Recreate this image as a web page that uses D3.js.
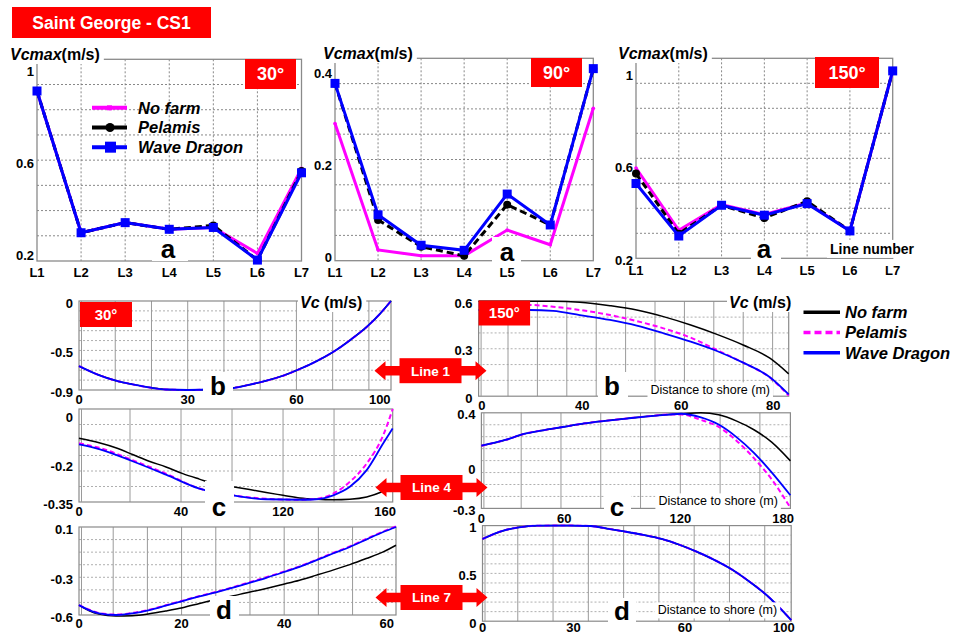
<!DOCTYPE html>
<html><head><meta charset="utf-8">
<script src="https://cdn.jsdelivr.net/npm/d3@7"></script>
<style>body{margin:0;background:#fff}svg{display:block}text{font-family:"Liberation Sans",Arial,Helvetica,sans-serif}</style>
</head><body>
<svg id="chart" width="955" height="635"></svg>
<script>
// ---------------- DATA ----------------
const lineNames = ["L1","L2","L3","L4","L5","L6","L7"];
const seriesNames = ["No farm","Pelamis","Wave Dragon"];
// Vcmax (m/s) per line, 30°
const noFarm30 = [0.914, 0.297, 0.341, 0.312, 0.320, 0.207, 0.577];
const pelamis30 = [0.914, 0.297, 0.341, 0.312, 0.329, 0.178, 0.566];
const waveDragon30 = [0.914, 0.297, 0.341, 0.312, 0.320, 0.178, 0.558];
// 90°
const noFarm90 = [0.291, 0.017, 0.004, 0.004, 0.060, 0.028, 0.324];
const pelamis90 = [0.378, 0.082, 0.024, 0.004, 0.115, 0.071, 0.410];
const waveDragon90 = [0.378, 0.093, 0.027, 0.016, 0.138, 0.071, 0.410];
// 150°
const noFarm150 = [0.599, 0.330, 0.441, 0.398, 0.448, 0.327, 1.019];
const pelamis150 = [0.575, 0.315, 0.438, 0.383, 0.455, 0.327, 1.019];
const waveDragon150 = [0.532, 0.305, 0.438, 0.395, 0.445, 0.327, 1.019];
const yTicks30 = [0.2, 0.6, 1];
const yTicks90 = [0, 0.2, 0.4];
const yTicks150 = [0.2, 0.6, 1];

// Vc (m/s) along Line 1, 30°
const l1_30_x = [0, 5.5, 10.2, 14.8, 19.9, 24.0, 30.0, 36.9, 42.5, 47.1, 51.7, 56.3, 60.9, 65.6, 70.2, 74.8, 79.4, 83.1, 86.1];
const l1_30_noFarm = [-0.658, -0.749, -0.806, -0.843, -0.877, -0.895, -0.900, -0.895, -0.880, -0.846, -0.806, -0.756, -0.688, -0.608, -0.514, -0.396, -0.262, -0.128, 0];
const l1_30_pelamis = [-0.658, -0.749, -0.806, -0.843, -0.877, -0.895, -0.900, -0.895, -0.880, -0.846, -0.806, -0.756, -0.688, -0.608, -0.514, -0.396, -0.262, -0.128, 0];
const l1_30_wave = [-0.658, -0.749, -0.806, -0.843, -0.877, -0.895, -0.900, -0.895, -0.880, -0.846, -0.806, -0.756, -0.688, -0.608, -0.514, -0.396, -0.262, -0.128, 0];
// Line 1, 150°
const l1_150_x = [19.05, 29.4, 34.1, 39.5, 45.6, 51.0, 56.4, 61.9, 67.2, 72.5, 77.9, 81.7];
const l1_150_noFarm = [0.600, 0.600, 0.600, 0.594, 0.572, 0.545, 0.503, 0.450, 0.391, 0.324, 0.240, 0.141];
const l1_150_pelamis = [0.580, 0.577, 0.566, 0.545, 0.513, 0.475, 0.429, 0.370, 0.292, 0.212, 0.118, 0.004];
const l1_150_wave = [0.545, 0.545, 0.539, 0.513, 0.482, 0.446, 0.398, 0.345, 0.286, 0.212, 0.120, 0.011];
// Line 4, 30°
const l4_30_xNoFarm = [0, 7.9, 14.4, 21.0, 27.5, 34.1, 40.7, 47.2, 53.8, 60.3, 66.9, 73.4, 80.0, 86.6, 93.1, 99.7, 106.2, 112.8, 119.3, 123];
const l4_30_noFarm = [-0.094, -0.112, -0.132, -0.159, -0.186, -0.209, -0.236, -0.258, -0.279, -0.289, -0.300, -0.312, -0.323, -0.334, -0.339, -0.341, -0.339, -0.330, -0.307, -0.289];
const l4_30_x = [0, 7.9, 21.0, 34.1, 47.2, 60.3, 73.4, 86.6, 93.1, 99.7, 106.2, 112.8, 119.3, 123];
const l4_30_pelamis = [-0.114, -0.132, -0.182, -0.236, -0.296, -0.323, -0.337, -0.341, -0.337, -0.316, -0.269, -0.195, -0.081, 0.024];
const l4_30_wave = [-0.118, -0.137, -0.186, -0.240, -0.296, -0.323, -0.339, -0.341, -0.339, -0.323, -0.289, -0.222, -0.114, -0.054];
// Line 4, 150°
const l4_150_x = [0, 15.0, 25.6, 36.3, 49.1, 61.9, 74.7, 87.5, 100.4, 113.1, 120.6, 132.4, 143.1, 153.7, 164.4, 175.1, 186.4];
const l4_150_noFarm = [0.159, 0.203, 0.245, 0.270, 0.296, 0.322, 0.341, 0.358, 0.374, 0.387, 0.393, 0.400, 0.385, 0.341, 0.276, 0.185, 0.048];
const l4_150_pelamis = [0.159, 0.203, 0.245, 0.270, 0.296, 0.322, 0.341, 0.358, 0.374, 0.387, 0.387, 0.348, 0.297, 0.198, 0.068, -0.087, -0.295];
const l4_150_wave = [0.159, 0.203, 0.245, 0.270, 0.296, 0.322, 0.341, 0.358, 0.374, 0.387, 0.393, 0.366, 0.314, 0.224, 0.107, -0.036, -0.204];
// Line 7, 30°
const l7_30_x = [0, 2.0, 3.9, 7.2, 10.4, 13.7, 16.9, 20.2, 23.5, 26.7, 30.0, 33.2, 36.5, 39.7, 43.0, 46.3, 49.5, 52.8, 56.0, 59.3, 61.8];
const l7_30_pelamis = [-0.521, -0.558, -0.584, -0.597, -0.584, -0.558, -0.523, -0.486, -0.449, -0.416, -0.379, -0.340, -0.300, -0.258, -0.213, -0.160, -0.107, -0.054, 0.005, 0.065, 0.104];
const l7_30_wave = [-0.521, -0.561, -0.587, -0.600, -0.587, -0.561, -0.526, -0.489, -0.452, -0.420, -0.383, -0.344, -0.304, -0.262, -0.217, -0.164, -0.111, -0.059, 0.000, 0.060, 0.100];
const l7_30_xNoFarm = [0, 2.0, 3.9, 7.2, 10.4, 13.7, 16.9, 20.2, 23.5, 25.4, 31.3, 36.5, 39.7, 43.0, 46.3, 49.5, 52.8, 56.0, 59.3, 61.8];
const l7_30_noFarm = [-0.521, -0.566, -0.592, -0.608, -0.605, -0.590, -0.568, -0.542, -0.508, -0.489, -0.436, -0.389, -0.357, -0.323, -0.283, -0.243, -0.199, -0.151, -0.098, -0.045];
// Line 7, 150°
const l7_150_x = [0, 5.9, 10.4, 15.4, 20.3, 24.8, 30.5, 36.1, 40.6, 45.6, 50.8, 56.0, 60.7, 65.4, 70.6, 75.3, 80.5, 87.5];
const l7_150_noFarm = [0.860, 0.947, 0.982, 0.999, 1.000, 1.000, 0.996, 0.964, 0.936, 0.902, 0.860, 0.797, 0.727, 0.647, 0.543, 0.424, 0.274, 0.012];
const l7_150_pelamis = [0.860, 0.947, 0.982, 0.999, 1.000, 1.000, 0.996, 0.964, 0.936, 0.902, 0.860, 0.797, 0.727, 0.647, 0.543, 0.424, 0.274, 0.012];
const l7_150_wave = [0.860, 0.947, 0.982, 0.999, 1.000, 1.000, 0.996, 0.964, 0.936, 0.902, 0.860, 0.797, 0.727, 0.647, 0.543, 0.424, 0.274, 0.012];

// tick labels of the small panels
const b30XTicks = [0, 30, 60, 83], b30XLabels = ["0","30","60","100"], b30YTicks = [0, -0.5, -0.9];
const b150XTicks = [19.7, 40, 60, 78.6], b150XLabels = ["0","40","60","80"], b150YTicks = [0.6, 0.3, 0];
const c30XTicks = [0, 40, 80, 120], c30XLabels = ["0","40","120","160"], c30YTicks = [0, -0.2, -0.35];
const c150XTicks = [0, 50, 120, 182], c150XLabels = ["0","60","120","180"], c150YTicks = [0.4, 0, -0.3];
const d30XTicks = [0, 20, 40, 60], d30XLabels = ["0","20","40","60"], d30YTicks = [0.1, -0.3, -0.6];
const d150XTicks = [0, 25.8, 57.4, 85.4], d150XLabels = ["0","30","60","100"], d150YTicks = [1, 0.5, 0];

// ---------------- DRAWING ----------------
const svg = d3.select("#chart");
const COL = {nofarm:"#ff00ff", pel:"#000000", wave:"#0000ff", red:"#ff0000"};

function topPanel(p) {
  const g = svg.append("g");
  const x = d3.scalePoint().domain(lineNames).range([p.x0, p.x1]);
  const y = d3.scaleLinear().domain(p.yDomain).range([p.y1, p.y0]);
  const grid = d3.scaleLinear().domain([0, 8]).range([p.y1, p.y0]);
  g.append("g").selectAll("line").data(d3.range(1, 8)).join("line")
    .attr("x1", p.x0).attr("x2", p.x1).attr("y1", d => grid(d)).attr("y2", d => grid(d))
    .attr("stroke", "#7a7a7a").attr("stroke-width", 0.9).attr("stroke-dasharray", "2,2");
  g.append("g").selectAll("line").data(lineNames.slice(1, 6)).join("line")
    .attr("x1", d => x(d)).attr("x2", d => x(d)).attr("y1", p.y0).attr("y2", p.y1)
    .attr("stroke", "#7a7a7a").attr("stroke-width", 0.9).attr("stroke-dasharray", "2,2");
  g.append("rect").attr("x", p.x0).attr("y", p.y0).attr("width", p.x1 - p.x0).attr("height", p.y1 - p.y0)
    .attr("fill", "none").attr("stroke", "#8a8a8a").attr("stroke-width", 1.3);
  g.append("g").selectAll("text").data(p.yTicks).join("text")
    .attr("x", p.x0 - 3).attr("y", d => y(d)).attr("dy", "0.35em").attr("text-anchor", "end")
    .attr("font-size", 13).attr("font-weight", "bold").text(d => d);
  g.append("g").selectAll("text").data(lineNames).join("text")
    .attr("x", d => x(d)).attr("y", p.y1 + p.xLabelOff).attr("text-anchor", "middle")
    .attr("font-size", 13).attr("font-weight", "bold").text(d => d);
  const line = d3.line().x((d, i) => x(lineNames[i])).y(d => y(d));
  g.append("path").attr("d", line(p.noFarm)).attr("fill", "none").attr("stroke", COL.nofarm).attr("stroke-width", 3);
  g.append("g").selectAll("circle").data(p.noFarm).join("circle")
    .attr("cx", (d, i) => x(lineNames[i])).attr("cy", d => y(d)).attr("r", 1.8).attr("fill", COL.nofarm);
  g.append("path").attr("d", line(p.pelamis)).attr("fill", "none").attr("stroke", COL.pel).attr("stroke-width", 3).attr("stroke-dasharray", "7,4");
  g.append("g").selectAll("circle").data(p.pelamis).join("circle")
    .attr("cx", (d, i) => x(lineNames[i])).attr("cy", d => y(d)).attr("r", 4).attr("fill", COL.pel);
  g.append("path").attr("d", line(p.wave)).attr("fill", "none").attr("stroke", COL.wave).attr("stroke-width", 3);
  g.append("g").selectAll("rect").data(p.wave).join("rect")
    .attr("x", (d, i) => x(lineNames[i]) - 4.5).attr("y", d => y(d) - 4.5).attr("width", 9).attr("height", 9).attr("fill", COL.wave);
}

function smallPanel(p) {
  const g = svg.append("g");
  const x = d3.scaleLinear().domain(p.xDomain).range([p.x0, p.x1]);
  const y = d3.scaleLinear().domain(p.yDomain).range([p.y1, p.y0]);
  const gy = d3.scaleLinear().domain([0, p.nGridY]).range([p.y1, p.y0]);
  g.append("g").selectAll("line").data(d3.range(1, p.nGridY)).join("line")
    .attr("x1", p.x0).attr("x2", p.x1).attr("y1", d => gy(d)).attr("y2", d => gy(d))
    .attr("stroke", "#9a9a9a").attr("stroke-width", 0.8).attr("stroke-dasharray", "2,2");
  const vx = d3.range(p.xDomain[0] + p.gridStepX, p.xDomain[1] - 0.3 * p.gridStepX, p.gridStepX);
  g.append("g").selectAll("line").data(vx).join("line")
    .attr("x1", d => x(d)).attr("x2", d => x(d)).attr("y1", p.y0).attr("y2", p.y1)
    .attr("stroke", "#9a9a9a").attr("stroke-width", 1);
  g.append("rect").attr("x", p.x0).attr("y", p.y0).attr("width", p.x1 - p.x0).attr("height", p.y1 - p.y0)
    .attr("fill", "none").attr("stroke", "#8a8a8a").attr("stroke-width", 1.2);
  g.append("line").attr("x1", p.x0 + 2.5).attr("x2", p.x0 + 2.5).attr("y1", p.y0).attr("y2", p.y1)
    .attr("stroke", "#9a9a9a").attr("stroke-width", 1);
  g.append("g").selectAll("text").data(p.yTicks).join("text")
    .attr("x", p.x0 - 6).attr("y", d => y(d) + 2).attr("dy", "0.35em").attr("text-anchor", "end")
    .attr("font-size", 13).attr("font-weight", "bold").text(d => d);
  g.append("g").selectAll("text").data(p.xTicks).join("text")
    .attr("x", d => x(d)).attr("y", p.y1 + p.xLabelOff).attr("dy", "0.35em").attr("text-anchor", "middle")
    .attr("font-size", 13).attr("font-weight", "bold").text((d, i) => p.xLabels[i]);
  const line = (xs, ys) => d3.line().curve(d3.curveMonotoneX).x((d, i) => x(xs[i])).y(d => y(d))(ys);
  g.append("path").attr("d", line(p.xNoFarm, p.noFarm)).attr("fill", "none").attr("stroke", COL.pel).attr("stroke-width", 1.5);
  g.append("path").attr("d", line(p.xs, p.pelamis)).attr("fill", "none").attr("stroke", COL.nofarm).attr("stroke-width", 2).attr("stroke-dasharray", "5,3");
  g.append("path").attr("d", line(p.xs, p.wave)).attr("fill", "none").attr("stroke", COL.wave).attr("stroke-width", 1.8);
}

topPanel({x0: 37, x1: 301.5, y0: 59.3, y1: 261, yDomain: [0.174, 1.052], yTicks: yTicks30, xLabelOff: 16,
  noFarm: noFarm30, pelamis: pelamis30, wave: waveDragon30});
topPanel({x0: 335, x1: 593.3, y0: 58.3, y1: 260.7, yDomain: [-0.0065, 0.4324], yTicks: yTicks90, xLabelOff: 16,
  noFarm: noFarm90, pelamis: pelamis90, wave: waveDragon90});
topPanel({x0: 636, x1: 892.7, y0: 58.3, y1: 258.3, yDomain: [0.2086, 1.0735], yTicks: yTicks150, xLabelOff: 17,
  noFarm: noFarm150, pelamis: pelamis150, wave: waveDragon150});

smallPanel({x0: 79, x1: 391, y0: 301, y1: 390, xDomain: [0, 86.1], yDomain: [-0.9, 0], nGridY: 9, gridStepX: 10, xLabelOff: 9,
  xTicks: b30XTicks, xLabels: b30XLabels, yTicks: b30YTicks,
  xNoFarm: l1_30_x, xs: l1_30_x, noFarm: l1_30_noFarm, pelamis: l1_30_pelamis, wave: l1_30_wave});
smallPanel({x0: 478.6, x1: 788.7, y0: 301.3, y1: 396.2, xDomain: [19.05, 81.7], yDomain: [0, 0.6], nGridY: 6, gridStepX: 5.94, xLabelOff: 9,
  xTicks: b150XTicks, xLabels: b150XLabels, yTicks: b150YTicks,
  xNoFarm: l1_150_x, xs: l1_150_x, noFarm: l1_150_noFarm, pelamis: l1_150_pelamis, wave: l1_150_wave});
smallPanel({x0: 79, x1: 392.7, y0: 409, y1: 502, xDomain: [0, 123], yDomain: [-0.35, 0.024], nGridY: 6, gridStepX: 20, xLabelOff: 9,
  xTicks: c30XTicks, xLabels: c30XLabels, yTicks: c30YTicks,
  xNoFarm: l4_30_xNoFarm, xs: l4_30_x, noFarm: l4_30_noFarm, pelamis: l4_30_pelamis, wave: l4_30_wave});
smallPanel({x0: 481.4, x1: 790.4, y0: 412.8, y1: 508.4, xDomain: [0, 186.4], yDomain: [-0.3, 0.4], nGridY: 8, gridStepX: 24, xLabelOff: 10,
  xTicks: c150XTicks, xLabels: c150XLabels, yTicks: c150YTicks,
  xNoFarm: l4_150_x, xs: l4_150_x, noFarm: l4_150_noFarm, pelamis: l4_150_pelamis, wave: l4_150_wave});
smallPanel({x0: 79, x1: 396, y0: 527, y1: 615, xDomain: [0, 61.8], yDomain: [-0.6, 0.1], nGridY: 7, gridStepX: 20 / 3, xLabelOff: 8.5,
  xTicks: d30XTicks, xLabels: d30XLabels, yTicks: d30YTicks,
  xNoFarm: l7_30_xNoFarm, xs: l7_30_x, noFarm: l7_30_noFarm, pelamis: l7_30_pelamis, wave: l7_30_wave});
smallPanel({x0: 482.5, x1: 791.2, y0: 525.6, y1: 621.2, xDomain: [0, 87.5], yDomain: [0, 1], nGridY: 10, gridStepX: 10, xLabelOff: 6.5,
  xTicks: d150XTicks, xLabels: d150XLabels, yTicks: d150YTicks,
  xNoFarm: l7_150_x, xs: l7_150_x, noFarm: l7_150_noFarm, pelamis: l7_150_pelamis, wave: l7_150_wave});

// ---------------- DECORATIONS ----------------
function whiteBox(x, y, w, h) {
  svg.append("rect").attr("x", x).attr("y", y).attr("width", w).attr("height", h).attr("fill", "#fff");
}
function letter(cx, cy, s, box) {
  whiteBox(box[0], box[1], box[2], box[3]);
  svg.append("text").attr("x", cx).attr("y", cy).attr("dy", "0.35em").attr("text-anchor", "middle")
    .attr("font-size", 26).attr("font-weight", "bold").text(s);
}
function titleText(x, y, italic, rest, size) {
  const g = svg.append("g");
  const r = g.append("rect").attr("fill", "#fff");
  const t = g.append("text").attr("x", x).attr("y", y).attr("font-size", size).attr("font-weight", "bold");
  t.append("tspan").attr("font-style", "italic").text(italic);
  t.append("tspan").text(rest);
  const b = t.node().getBBox();
  r.attr("x", b.x - 2).attr("y", b.y - 1).attr("width", b.width + 6).attr("height", b.height + 2);
}
function plainBoxed(x, y, s, size, weight, anchor) {
  const g = svg.append("g");
  const r = g.append("rect").attr("fill", "#fff");
  const t = g.append("text").attr("x", x).attr("y", y).attr("dy", "0.35em").attr("font-size", size)
    .attr("font-weight", weight).attr("text-anchor", anchor || "start").text(s);
  const b = t.node().getBBox();
  r.attr("x", b.x - 3).attr("y", b.y - 1).attr("width", b.width + 6).attr("height", b.height + 2);
}
function badge(x, y, w, h, s, size) {
  svg.append("rect").attr("x", x).attr("y", y).attr("width", w).attr("height", h).attr("fill", COL.red);
  svg.append("text").attr("x", x + w / 2).attr("y", y + h / 2).attr("dy", "0.36em").attr("text-anchor", "middle")
    .attr("fill", "#fff").attr("font-size", size).attr("font-weight", "bold").text(s);
}
function arrow(cx, cy, s) {
  const g = svg.append("g").attr("transform", `translate(${cx},${cy})`);
  g.append("path").attr("d", "M-56,0 L-45,-9.5 L-45,-4.7 L45,-4.7 L45,-9.5 L56,0 L45,9.5 L45,4.7 L-45,4.7 L-45,9.5 Z").attr("fill", COL.red);
  g.append("rect").attr("x", -31).attr("y", -12.5).attr("width", 62).attr("height", 25).attr("fill", COL.red);
  g.append("text").attr("y", 0).attr("dy", "0.36em").attr("text-anchor", "middle").attr("fill", "#fff")
    .attr("font-size", 13.5).attr("font-weight", "bold").text(s);
}

// main title
badge(12, 7, 199, 31, "Saint George - CS1", 17.5);
// top titles
titleText(10, 60, "Vcmax", "(m/s)", 16);
titleText(323, 59, "Vcmax", "(m/s)", 16);
titleText(618, 59, "Vcmax", "(m/s)", 16);
badge(245, 59, 51, 30, "30°", 18);
badge(531, 58, 51, 29, "90°", 18);
badge(815, 57, 64, 31, "150°", 18);
// panel letters
letter(168, 249, "a", [152, 236, 36, 25]);
letter(507, 252, "a", [492, 237, 29, 31]);
letter(764, 249, "a", [751, 241, 30, 19]);
plainBoxed(872, 249, "Line number", 14, "bold", "middle");

// legend in first top panel
const legendTop = d3.scaleBand().domain(seriesNames).range([98, 157]);
const lgTop = svg.append("g");
seriesNames.forEach((n, i) => {
  const yy = legendTop(n) + legendTop.bandwidth() / 2;
  const col = [COL.nofarm, COL.pel, COL.wave][i];
  lgTop.append("line").attr("x1", 92).attr("x2", 127).attr("y1", yy).attr("y2", yy).attr("stroke", col).attr("stroke-width", 4);
  if (i === 0) lgTop.append("rect").attr("x", 107).attr("y", yy - 2.5).attr("width", 5).attr("height", 5).attr("fill", col);
  if (i === 1) lgTop.append("circle").attr("cx", 110).attr("cy", yy).attr("r", 4.5).attr("fill", col);
  if (i === 2) lgTop.append("rect").attr("x", 105).attr("y", yy - 5.5).attr("width", 11).attr("height", 11).attr("fill", col);
  lgTop.append("text").attr("x", 138).attr("y", yy).attr("dy", "0.35em").attr("font-size", 16.5)
    .attr("font-weight", "bold").attr("font-style", "italic").text(n);
});

// legend right (bottom panels)
const legendR = d3.scaleBand().domain(seriesNames).range([302, 363]);
const lgR = svg.append("g");
seriesNames.forEach((n, i) => {
  const yy = legendR(n) + legendR.bandwidth() / 2;
  const col = [COL.pel, COL.nofarm, COL.wave][i];
  lgR.append("line").attr("x1", 803.5).attr("x2", 840).attr("y1", yy).attr("y2", yy).attr("stroke", col)
    .attr("stroke-width", 3.5).attr("stroke-dasharray", i === 1 ? "7,4" : null);
  lgR.append("text").attr("x", 845).attr("y", yy).attr("dy", "0.35em").attr("font-size", 16.5)
    .attr("font-weight", "bold").attr("font-style", "italic").text(n);
});

// bottom panel titles / badges
titleText(300, 308, "Vc", " (m/s)", 16);
titleText(729, 308, "Vc", " (m/s)", 16);
badge(80, 302, 52, 25, "30°", 15);
badge(478.6, 300.5, 51.5, 25, "150°", 15);
// letters b, c, d
letter(218, 386, "b", [203, 372, 30, 30]);
letter(612, 386, "b", [598, 372, 30, 26]);
letter(219, 507, "c", [205, 481, 29, 36]);
letter(617, 507, "c", [604, 495, 27, 28]);
letter(224, 610, "d", [210, 596, 29, 30]);
letter(622, 611, "d", [608, 598, 28, 26]);
// distance labels
plainBoxed(650.5, 390, "Distance to shore (m)", 12.5, "normal");
plainBoxed(658.4, 501, "Distance to shore (m)", 12.5, "normal");
plainBoxed(657.7, 610, "Distance to shore (m)", 12.5, "normal");
// line arrows
arrow(430.5, 370.7, "Line 1");
arrow(431.5, 487.5, "Line 4");
arrow(431.5, 597.5, "Line 7");
</script>
</body></html>
